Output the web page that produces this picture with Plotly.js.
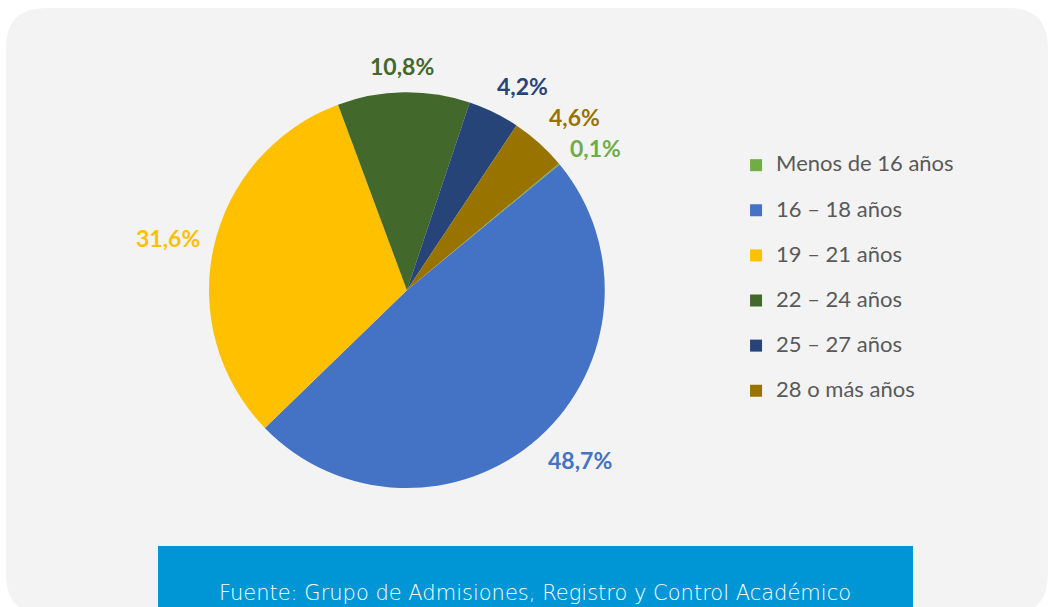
<!DOCTYPE html>
<html>
<head>
<meta charset="utf-8">
<script src="https://cdn.plot.ly/plotly-3.0.1.min.js"></script>
<style>html,body{margin:0;padding:0;background:#fff;}#chart{width:1050px;height:607px;}</style>
</head>
<body>
<div id="chart"></div>
<script>
const categories = ["Menos de 16 años", "16 – 18 años", "19 – 21 años", "22 – 24 años", "25 – 27 años", "28 o más años"];
const shares = [0.1, 48.7, 31.6, 10.8, 4.2, 4.6];
const sliceColors = ["#70ad47", "#4472c4", "#ffc000", "#43682b", "#264478", "#997300"];
const sourceText = "Fuente: Grupo de Admisiones, Registro y Control Académico";

const W = 1050, H = 607;
const ROTATION = 50.2;
const pieDomain = {x: [0.199, 0.576], y: [0.196, 0.848]};

const legendLabels = categories.map(c => '<span style="font-size:22px">' + c + '</span><br>&nbsp;');

const trace = {
  type: 'pie',
  labels: legendLabels,
  values: shares,
  sort: false,
  direction: 'clockwise',
  rotation: ROTATION,
  marker: {colors: sliceColors, line: {width: 0}},
  textinfo: 'none',
  hoverinfo: 'none',
  domain: pieDomain
};

// data labels placed outside each slice, at the slice's mid angle (computed from the values)
const cxPx = (pieDomain.x[0] + pieDomain.x[1]) / 2 * W;
const cyPx = (1 - (pieDomain.y[0] + pieDomain.y[1]) / 2) * H;
const Rpx = Math.min((pieDomain.x[1] - pieDomain.x[0]) * W, (pieDomain.y[1] - pieDomain.y[0]) * H) / 2;
const total = shares.reduce((a, b) => a + b, 0);
const labelFont = 23, gap = 14, minSep = 31;
const clamp = v => Math.max(-1, Math.min(1, v));
let acc = ROTATION;
const pos = shares.map((v, i) => {
  const sweep = v / total * 360;
  const mid = (acc + sweep / 2) * Math.PI / 180;
  acc += sweep;
  const txt = v.toFixed(1).replace('.', ',') + '%';
  const w = txt.length * labelFont * 0.56, h = labelFont * 1.05;
  const s = Math.sin(mid), c = Math.cos(mid);
  return {
    txt: txt, w: w,
    x: cxPx + (Rpx + gap) * s + clamp(2 * s) * w / 2,
    y: cyPx - (Rpx + gap) * c - clamp(2 * c) * h / 2
  };
});
// simple de-overlap: spread labels that collide vertically
for (let it = 0; it < 5; it++) {
  for (let a = 0; a < pos.length; a++) {
    for (let b = a + 1; b < pos.length; b++) {
      const A = pos[a], B = pos[b];
      if (Math.abs(A.x - B.x) < (A.w + B.w) / 2 && Math.abs(A.y - B.y) < minSep) {
        const push = (minSep - Math.abs(A.y - B.y)) / 2;
        if (A.y <= B.y) { A.y -= push; B.y += push; } else { A.y += push; B.y -= push; }
      }
    }
  }
}
const labelAnnotations = pos.map((p, i) => ({
  xref: 'paper', yref: 'paper', x: p.x / W, y: 1 - p.y / H,
  xanchor: 'center', yanchor: 'middle', showarrow: false,
  text: '<b>' + p.txt + '</b>',
  font: {family: 'Lato, sans-serif', size: labelFont, color: sliceColors[i]}
}));

const x0 = 0.0057, x1 = 0.998, y0 = -0.012, y1 = 0.987, rx = 0.038, ry = 0.066;
const bgPath = `M${x0+rx},${y1} L${x1-rx},${y1} Q${x1},${y1} ${x1},${y1-ry} L${x1},${y0+ry} Q${x1},${y0} ${x1-rx},${y0} L${x0+rx},${y0} Q${x0},${y0} ${x0},${y0+ry} L${x0},${y1-ry} Q${x0},${y1} ${x0+rx},${y1} Z`;

const layout = {
  width: W, height: H,
  margin: {l: 0, r: 0, t: 0, b: 0},
  paper_bgcolor: '#ffffff',
  separators: ',.',
  showlegend: true,
  legend: {
    x: 0.701, xanchor: 'left', y: 0.756, yanchor: 'top',
    bgcolor: 'rgba(0,0,0,0)',
    font: {family: 'Lato, sans-serif', size: 16.2, color: '#595959'},
    valign: 'top'
  },
  shapes: [
    {type: 'path', xref: 'paper', yref: 'paper', path: bgPath, fillcolor: '#f3f3f3', line: {width: 0}, layer: 'below'},
    {type: 'rect', xref: 'paper', yref: 'paper', x0: 0.1505, x1: 0.8695, y0: -0.02, y1: 0.1005, fillcolor: '#0096d6', line: {width: 0}, layer: 'below'}
  ],
  annotations: labelAnnotations.concat([
    {xref: 'paper', yref: 'paper', x: 0.5095, y: 0.023, xanchor: 'center', yanchor: 'middle', showarrow: false,
     text: sourceText, font: {family: 'DejaVu Sans, sans-serif', size: 21, color: '#ffffff', weight: 300}}
  ])
};

Plotly.newPlot('chart', [trace], layout, {displayModeBar: false, staticPlot: true});
</script>
</body>
</html>
